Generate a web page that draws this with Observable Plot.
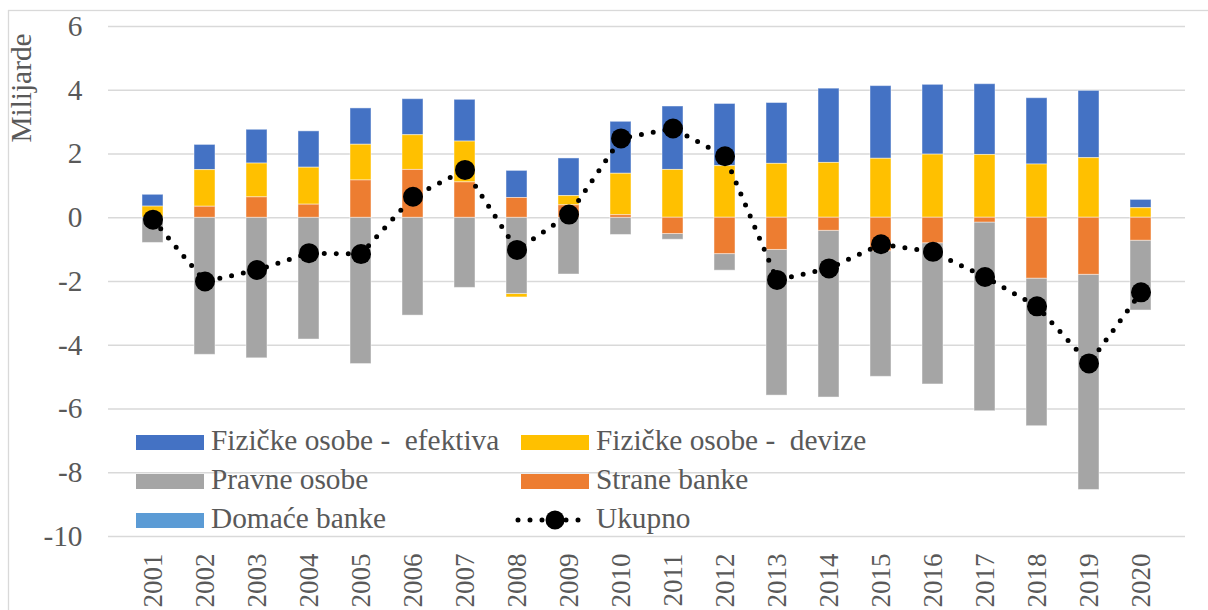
<!DOCTYPE html>
<html>
<head>
<meta charset="utf-8">
<script src="https://cdn.jsdelivr.net/npm/d3@7"></script>
<script src="https://cdn.jsdelivr.net/npm/@observablehq/plot@0.6"></script>
<style>
  html, body { margin: 0; padding: 0; background: #fff; }
  #chart { position: relative; width: 1208px; height: 610px; overflow: hidden; }
</style>
</head>
<body>
<div id="chart"></div>
<script>
const years = ["2001","2002","2003","2004","2005","2006","2007","2008","2009","2010",
               "2011","2012","2013","2014","2015","2016","2017","2018","2019","2020"];
const efektiva = [0.37,0.79,1.06,1.14,1.14,1.13,1.31,0.85,1.18,1.63,1.99,1.95,1.91,2.33,2.28,2.19,2.22,2.08,2.11,0.26];
const devize   = [0.35,1.15,1.06,1.16,1.12,1.09,1.28,-0.11,0.29,1.30,1.50,1.62,1.69,1.72,1.85,1.98,1.97,1.67,1.87,0.30];
const pravne   = [-0.79,-4.30,-4.41,-3.82,-4.59,-3.07,-2.20,-2.39,-1.78,-0.54,-0.18,-0.52,-4.57,-5.23,-3.94,-4.43,-5.92,-4.63,-6.75,-2.19];
const strane   = [0,0.345,0.64,0.41,1.17,1.50,1.11,0.62,0.39,0.08,-0.51,-1.14,-1.01,-0.41,-1.05,-0.80,-0.15,-1.91,-1.79,-0.72];
const domace   = [0,0,0,0,0,0,0,0,0,0,0,0,0,0,0,0,0,0,0,0];
const ukupno   = [-0.06,-2.00,-1.64,-1.11,-1.14,0.66,1.50,-1.01,0.10,2.49,2.80,1.93,-1.95,-1.59,-0.83,-1.07,-1.86,-2.78,-4.57,-2.34];

const seriesNames = ["Fizičke osobe -  efektiva","Fizičke osobe -  devize","Pravne osobe","Strane banke","Domaće banke"];
const seriesValues = [efektiva, devize, pravne, strane, domace];
const seriesColors = ["#4472C4","#FFC000","#A5A5A5","#ED7D31","#5B9BD5"];
const stackOrder = ["Strane banke","Domaće banke","Pravne osobe","Fizičke osobe -  devize","Fizičke osobe -  efektiva"];
const totalName = "Ukupno";
const yTicks = [-10,-8,-6,-4,-2,0,2,4,6];
const yLabel = "Milijarde";

const rows = [];
seriesNames.forEach((s, i) => years.forEach((yr, j) => rows.push({year: yr, series: s, value: seriesValues[i][j]})));
const totals = years.map((yr, j) => ({year: yr, value: ukupno[j]}));

const textColor = "#595959";
const font = "Liberation Serif";
const fontPx = "29.33px";
const yearFontPx = "27px";

const chart = Plot.plot({
  width: 1208,
  height: 610,
  marginLeft: 108,
  marginRight: 23,
  marginTop: 26,
  marginBottom: 74,
  style: {background: "transparent", overflow: "visible"},
  x: {domain: years, padding: 0.6, align: 0.5},
  y: {domain: [-10, 6]},
  color: {domain: seriesNames, range: seriesColors},
  marks: [
    Plot.gridY({ticks: yTicks, stroke: "#D9D9D9", strokeOpacity: 1, strokeWidth: 1.3}),
    Plot.axisY({ticks: yTicks, tickFormat: d => String(d), tickSize: 0, tickPadding: 26, label: null, fill: textColor}),
    Plot.axisX({tickRotate: -90, tickSize: 0, tickPadding: 17, label: null, fill: textColor, className: "year-axis"}),
    Plot.barY(rows, Plot.stackY({order: stackOrder}, {
      x: "year", y: "value", fill: "series", stroke: "#ffffff", strokeOpacity: 0.45, strokeWidth: 1
    })),
    Plot.line(totals, {x: "year", y: "value", stroke: "#000", strokeWidth: 5, strokeDasharray: "0,12", strokeLinecap: "round"}),
    Plot.dot(totals, {x: "year", y: "value", r: 10, fill: "#000"})
  ]
});

document.getElementById("chart").appendChild(chart);

const svg = d3.select(chart);
// outer chart border
svg.append("rect").attr("x", 8.5).attr("y", 10.5).attr("width", 1300).attr("height", 700)
  .attr("fill", "none").attr("stroke", "#D9D9D9").attr("stroke-width", 1.3);

// y-axis title
svg.append("text")
  .attr("transform", "translate(31,88) rotate(-90)")
  .attr("text-anchor", "middle")
  .attr("fill", textColor)
  .text(yLabel);

// legend
const legendItems = [
  {name: seriesNames[0], color: seriesColors[0], col: 0, row: 0},
  {name: seriesNames[1], color: seriesColors[1], col: 1, row: 0},
  {name: seriesNames[2], color: seriesColors[2], col: 0, row: 1},
  {name: seriesNames[3], color: seriesColors[3], col: 1, row: 1},
  {name: seriesNames[4], color: seriesColors[4], col: 0, row: 2},
  {name: totalName, color: null, col: 1, row: 2}
];
const colX = [136, 521];
const rowBase = [450, 489, 528];
const lg = svg.append("g").attr("text-anchor", "start");
legendItems.forEach(it => {
  const x0 = colX[it.col];
  const yb = rowBase[it.row];
  if (it.color) {
    lg.append("rect").attr("x", x0).attr("y", yb - 15).attr("width", 68).attr("height", 15).attr("fill", it.color);
  } else {
    const yc = yb - 8;
    lg.append("line").attr("x1", x0 - 3).attr("x2", x0 + 68).attr("y1", yc).attr("y2", yc)
      .attr("stroke", "#000").attr("stroke-width", 5).attr("stroke-dasharray", "0,12").attr("stroke-linecap", "round");
    lg.append("circle").attr("cx", x0 + 34).attr("cy", yc).attr("r", 9.5).attr("fill", "#000");
  }
  lg.append("text").attr("x", x0 + 75).attr("y", yb)
    .attr("text-anchor", "start")
    .attr("fill", textColor)
    .style("white-space", "pre")
    .text(it.name);
});

// font on every text element
svg.selectAll("text")
  .style("font-family", font, "important")
  .style("font-size", fontPx, "important");
svg.selectAll(".year-axis text")
  .style("font-size", yearFontPx, "important");
</script>
</body>
</html>
